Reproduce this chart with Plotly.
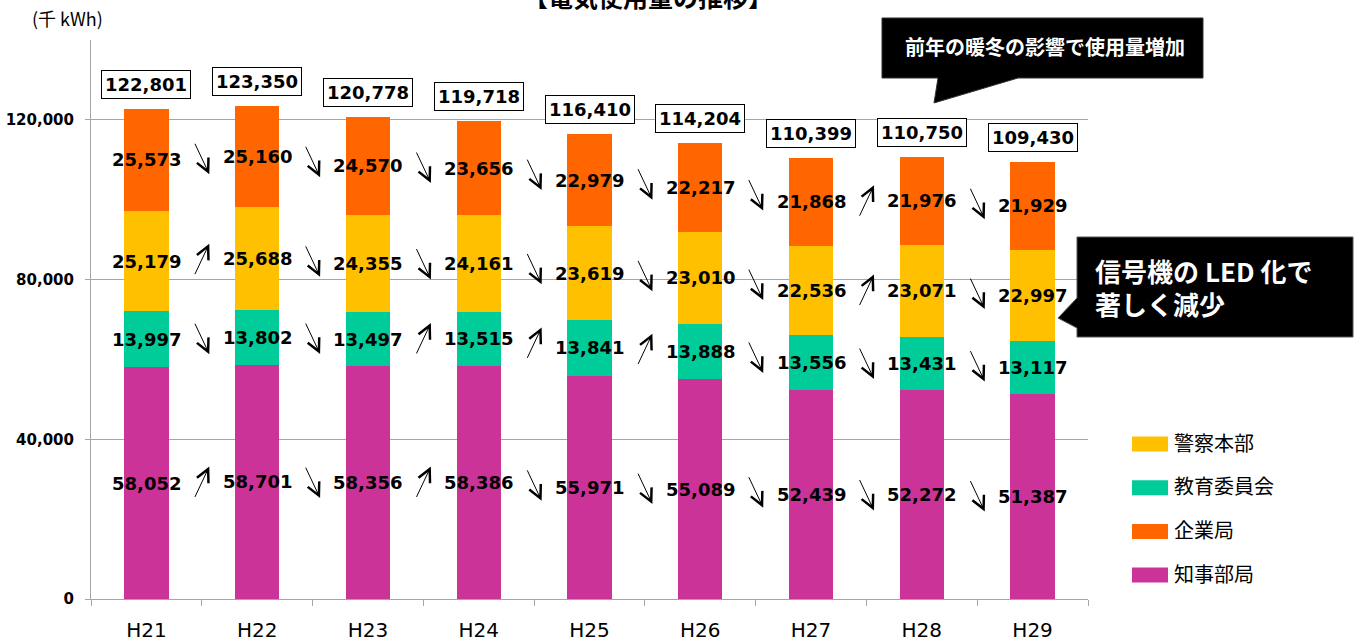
import plotly.graph_objects as go

# Fiscal years (Heisei)
years = ["H21", "H22", "H23", "H24", "H25", "H26", "H27", "H28", "H29"]

# Electricity use by department (thousand kWh)
chiji = [58052, 58701, 58356, 58386, 55971, 55089, 52439, 52272, 51387]      # 知事部局
kyoiku = [13997, 13802, 13497, 13515, 13841, 13888, 13556, 13431, 13117]     # 教育委員会
keisatsu = [25179, 25688, 24355, 24161, 23619, 23010, 22536, 23071, 22997]   # 警察本部
kigyo = [25573, 25160, 24570, 23656, 22979, 22217, 21868, 21976, 21929]      # 企業局
totals = [122801, 123350, 120778, 119718, 116410, 114204, 110399, 110750, 109430]

y_ticks = [0, 40000, 80000, 120000]

names = ["知事部局", "教育委員会", "警察本部", "企業局"]
colors = ["#CC3399", "#00CC99", "#FFC000", "#FF6600"]
stack = [chiji, kyoiku, keisatsu, kigyo]

# layout geometry in pixels
W, H = 1359, 639
L, R, T, B = 91, 1088, 40, 599


def px(x):
    return (x - L) / (R - L)


def py(y):
    return (B - y) / (B - T)


NUM_FONT = "DejaVu Sans"
JP_FONT = "Noto Sans CJK JP"

fig = go.Figure()
xs = list(range(len(years)))
for name, vals, col in zip(names, stack, colors):
    fig.add_trace(go.Bar(x=xs, y=vals, name=name, marker=dict(color=col, line=dict(width=0)),
                         width=0.4, showlegend=False, hoverinfo="name+y"))

annotations = []
shapes = []

# segment labels and trend arrows
base = [0] * len(years)
for vals in stack:
    centers = [b + v / 2 for b, v in zip(base, vals)]
    for i, v in enumerate(vals):
        annotations.append(dict(x=i, y=centers[i], xref="x", yref="y", text=f"<b>{v:,}</b>",
                                xanchor="center", yanchor="middle", showarrow=False,
                                font=dict(family=NUM_FONT, size=18, color="black")))
    for i in range(len(vals) - 1):
        yc = (centers[i] + centers[i + 1]) / 2
        up = vals[i + 1] > vals[i]
        dx, dy = 0.068, 4000
        xm = i + 0.5
        if up:
            hx, hy, tx, ty = xm + dx, yc + dy, xm - dx, yc - dy
        else:
            hx, hy, tx, ty = xm + dx, yc - dy, xm - dx, yc + dy
        annotations.append(dict(x=hx, y=hy, ax=tx, ay=ty, xref="x", yref="y", axref="x", ayref="y",
                                text="", showarrow=True, arrowhead=5, arrowsize=2.5, arrowwidth=1.0,
                                arrowcolor="black"))
    base = [b + v for b, v in zip(base, vals)]

# boxed totals above each bar
for i, t in enumerate(totals):
    annotations.append(dict(x=i, y=t, xref="x", yref="y", text=f"<b>{t:,}</b>", showarrow=False,
                            xanchor="center", yanchor="bottom", yshift=10, bgcolor="white",
                            bordercolor="black", borderwidth=1, borderpad=3,
                            font=dict(family=NUM_FONT, size=18, color="black")))


def note(x, y, text, size, color="black", xanchor="center", bold=False):
    annotations.append(dict(x=px(x), y=py(y), xref="paper", yref="paper", xanchor=xanchor, yanchor="middle",
                            text=f"<b>{text}</b>" if bold else text, showarrow=False,
                            font=dict(family=JP_FONT, size=size, color=color)))


# unit label and title
note(30, 18, "(千 kWh)", 18, xanchor="left")
note(648, -4, "【電気使用量の推移】", 25, bold=True)

# callout boxes
def path(points):
    pts = [f"{px(x):.5f},{py(y):.5f}" for x, y in points]
    return "M" + " L".join(pts) + " Z"


shapes.append(dict(type="path", xref="paper", yref="paper", fillcolor="black", line=dict(color="#333", width=1),
                   path=path([(882, 18), (1203, 18), (1203, 78), (1018, 78), (934, 103), (938, 78), (882, 78)])))
note(1045, 47, "前年の暖冬の影響で使用量増加", 20, color="white", bold=True)

shapes.append(dict(type="path", xref="paper", yref="paper", fillcolor="black", line=dict(color="#555", width=1),
                   path=path([(1077, 237), (1353, 237), (1353, 337), (1077, 337), (1077, 328), (1058, 318), (1077, 298)])))
note(1093, 270, "信号機の LED 化で", 26, color="white", xanchor="left", bold=True)
note(1093, 303, "著しく減少", 26, color="white", xanchor="left", bold=True)

# legend
legend_order = [2, 1, 3, 0]
for k, idx in enumerate(legend_order):
    yc = 444 + k * 43.7
    shapes.append(dict(type="rect", xref="paper", yref="paper", x0=px(1132), x1=px(1168),
                       y0=py(yc + 7.5), y1=py(yc - 7.5), fillcolor=colors[idx], line=dict(width=0)))
    note(1172, yc - 2, names[idx], 20, xanchor="left")

fig.update_layout(
    width=W, height=H,
    margin=dict(l=L, r=W - R, t=T, b=H - B, autoexpand=False),
    barmode="stack",
    plot_bgcolor="white", paper_bgcolor="white",
    font=dict(family=JP_FONT, color="black"),
    annotations=annotations, shapes=shapes,
    showlegend=False,
    xaxis=dict(range=[-0.5, len(years) - 0.5], tickvals=xs, ticktext=years, ticks="",
               showline=True, linecolor="#A6A6A6", linewidth=1, showgrid=False, zeroline=False,
               tickfont=dict(family=NUM_FONT, size=20, color="black"), ticklabelstandoff=13,
               minor=dict(tickvals=[i - 0.5 for i in range(len(years) + 1)], ticks="outside",
                          ticklen=6, tickcolor="#A6A6A6", showgrid=False)),
    yaxis=dict(range=[0, 140000], tickvals=y_ticks, ticktext=[f"{v:,}" for v in y_ticks],
               showline=True, linecolor="#A6A6A6", linewidth=1, showgrid=True, gridcolor="#A6A6A6",
               gridwidth=1, zeroline=False, ticks="outside", ticklen=5, tickcolor="#A6A6A6",
               tickfont=dict(family=NUM_FONT, size=15, color="black", weight="bold"),
               ticklabelstandoff=8),
)

fig.write_html("out.html")
